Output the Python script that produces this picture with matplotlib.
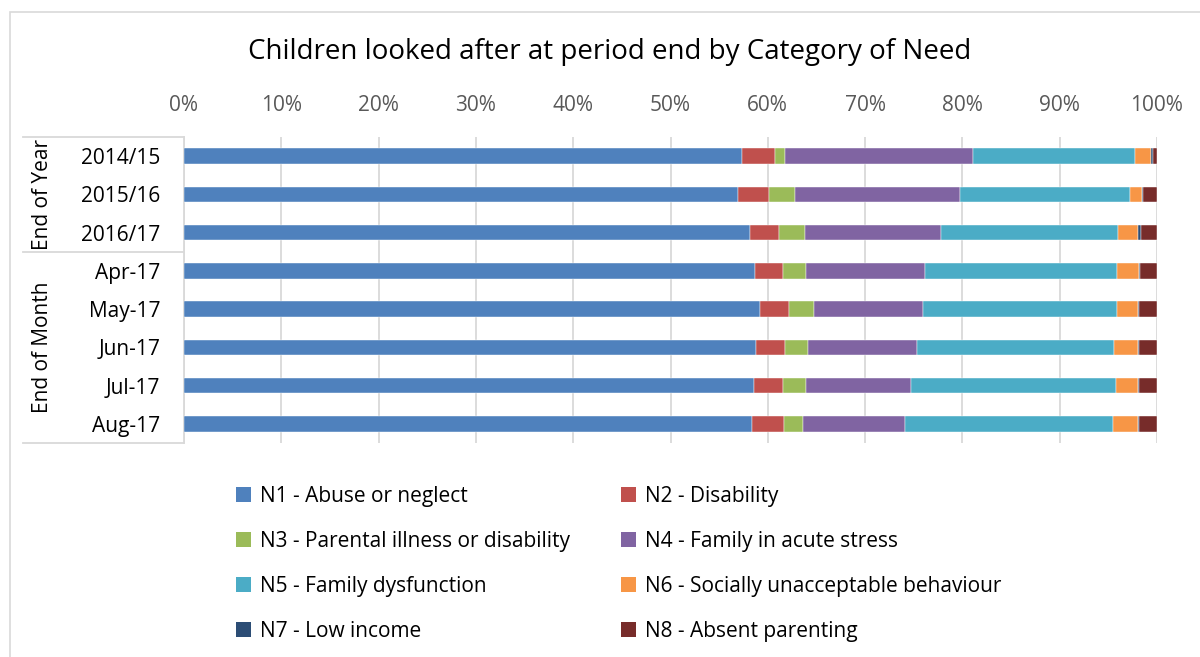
import numpy as np
import matplotlib
matplotlib.use('Agg')
import matplotlib.pyplot as plt
from matplotlib.patches import Rectangle, Patch
from matplotlib.lines import Line2D
import matplotlib.transforms as mtransforms

plt.rcParams['font.family'] = ['Open Sans', 'DejaVu Sans']

# rows, top to bottom
periods = ['2014/15', '2015/16', '2016/17', 'Apr-17', 'May-17', 'Jun-17', 'Jul-17', 'Aug-17']
groups = ['End of Year', 'End of Month']
group_sizes = [3, 5]

categories = ['N1 - Abuse or neglect', 'N2 - Disability', 'N3 - Parental illness or disability',
              'N4 - Family in acute stress', 'N5 - Family dysfunction',
              'N6 - Socially unacceptable behaviour', 'N7 - Low income', 'N8 - Absent parenting']

# share of children (%) per category, one value per period
n1 = [57.3, 56.9, 58.2, 58.7, 59.2, 58.8, 58.6, 58.4]
n2 = [3.4, 3.2, 2.9, 2.9, 3.0, 3.0, 3.0, 3.3]
n3 = [1.1, 2.7, 2.7, 2.3, 2.5, 2.3, 2.3, 1.9]
n4 = [19.3, 17.0, 14.0, 12.3, 11.3, 11.2, 10.8, 10.5]
n5 = [16.6, 17.4, 18.2, 19.7, 19.9, 20.3, 21.1, 21.4]
n6 = [1.7, 1.3, 2.0, 2.3, 2.1, 2.4, 2.2, 2.5]
n7 = [0.2, 0.1, 0.4, 0.1, 0.2, 0.2, 0.1, 0.1]
n8 = [0.4, 1.4, 1.6, 1.7, 1.8, 1.8, 1.9, 1.9]

colors = ['#4F81BD', '#C0504D', '#9BBB59', '#8064A2', '#4BACC6', '#F79646', '#2C4D75', '#772C2A']

W, H = 1200, 657
fs = 15
fig = plt.figure(figsize=(W / 100, H / 100), dpi=100)

# outer chart border (runs off the right and bottom edges)
fig.add_artist(Rectangle((10 / W, -0.2), 1.2, 1.2 - 12 / H, transform=fig.transFigure,
                         fill=False, edgecolor='#D9D9D9', lw=1.2))

ax = fig.add_axes([184 / W, 1 - 443 / H, (1157 - 184) / W, (443 - 137) / H])

series = [n1, n2, n3, n4, n5, n6, n7, n8]
y = np.arange(len(periods))
left = np.zeros(len(periods))
for vals, col, name in zip(series, colors, categories):
    vals = np.array(vals) / 100.0
    ax.barh(y, vals, left=left, height=0.4, color=col, label=name, zorder=3,
            edgecolor='white', linewidth=0.3)
    left += vals

ticks = np.linspace(0, 1, 11)
ax.set_xlim(0, 1)
ax.set_ylim(len(periods) - 0.5, -0.5)
ax.set_xticks(ticks)
ax.set_xticklabels(['{:d}%'.format(int(round(t * 100))) for t in ticks])
ax.xaxis.tick_top()
ax.tick_params(axis='x', length=0, pad=15, labelsize=fs, labelcolor='#595959')
ax.set_yticks(y)
ax.set_yticklabels(periods)
ax.tick_params(axis='y', length=0, pad=17, labelsize=fs, labelcolor='#000000')
ax.grid(axis='x', color='#D9D9D9', lw=1.3, zorder=0)
for s in ['top', 'right', 'bottom']:
    ax.spines[s].set_visible(False)
ax.spines['left'].set_color('#D9D9D9')
ax.spines['left'].set_linewidth(1.3)

# multi-level category box
trans = mtransforms.blended_transform_factory(ax.transAxes, ax.transData)
x0 = -(184 - 23) / (1157 - 184)
bounds = np.concatenate([[0], np.cumsum(group_sizes)]) - 0.5
for b in bounds:
    ax.add_line(Line2D([x0, 0], [b, b], transform=trans, color='#D9D9D9', lw=1.3, clip_on=False))
xg = -(184 - 42) / (1157 - 184)
for g, lo, hi in zip(groups, bounds[:-1], bounds[1:]):
    ax.text(xg, (lo + hi) / 2, g, transform=trans, rotation=90, ha='center', va='center',
            fontsize=fs, color='#000000')

fig.text(610 / W, 1 - 52 / H, 'Children looked after at period end by Category of Need',
         ha='center', va='center', fontsize=20, color='#000000')

# legend laid out row-wise in two columns
handles = [Patch(facecolor=c, edgecolor='none') for c in colors]
order = [0, 2, 4, 6, 1, 3, 5, 7]
fig.legend([handles[i] for i in order], [categories[i] for i in order], ncol=2,
           loc='upper left', bbox_to_anchor=(217 / W, 1 - 467 / H), frameon=False,
           fontsize=fs, handlelength=0.75, handleheight=0.75, handletextpad=0.4,
           labelspacing=1.15, columnspacing=2.45)

fig.savefig('out.png', dpi=100)
